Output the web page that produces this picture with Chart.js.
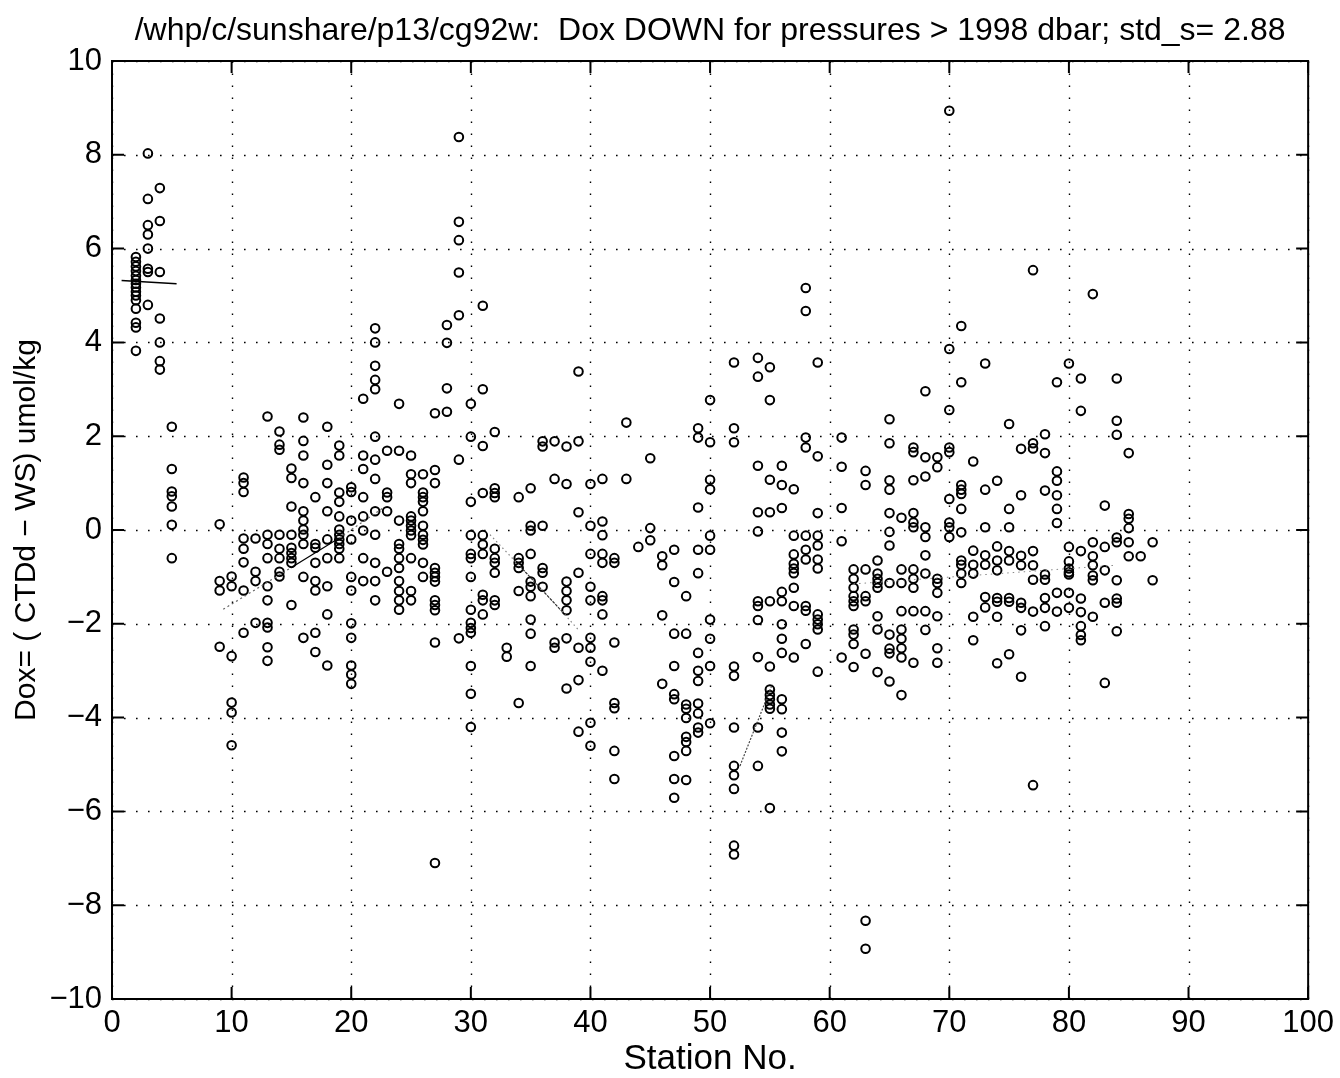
<!DOCTYPE html>
<html><head><meta charset="utf-8">
<script src="https://cdn.jsdelivr.net/npm/chart.js@4.4.1/dist/chart.umd.min.js"></script>
<style>html,body{margin:0;padding:0;background:#fff;} canvas{display:block;}</style>
</head><body>
<canvas id="c" width="1340" height="1078"></canvas>
<script>
const FONT = "'Liberation Sans', Arial, Helvetica, sans-serif";
const titleText = "/whp/c/sunshare/p13/cg92w:  Dox DOWN for pressures > 1998 dbar; std_s= 2.88";
const xTitle = "Station No.";
const yTitle = "Dox= ( CTDd \u2212 WS) umol/kg";
const xTicks = [0, 10, 20, 30, 40, 50, 60, 70, 80, 90, 100];
const yTicks = [-10, -8, -6, -4, -2, 0, 2, 4, 6, 8, 10];

const stations = [2,3,4,5,9,10,11,12,13,14,15,16,17,18,19,20,21,22,23,24,25,26,27,28,29,30,31,32,33,34,35,36,37,38,39,40,41,42,43,44,45,46,47,48,49,50,52,54,55,56,57,58,59,61,62,63,64,65,66,67,68,69,70,71,72,73,74,75,76,77,78,79,80,81,82,83,84,85,86,87];
const doxByStation = [
 [5.82,5.72,5.62,5.52,5.42,5.33,5.25,5.17,5.08,5.0,4.9,4.72,4.42,4.32,3.82],
 [8.03,7.06,6.5,6.3,6.0,5.57,5.5,4.8],
 [7.29,6.59,5.5,4.51,4.0,3.6,3.42],
 [2.2,1.3,0.82,0.72,0.5,0.11,-0.6],
 [0.12,-1.09,-1.29,-2.49],
 [-0.99,-1.2,-2.69,-3.68,-3.89,-4.59],
 [1.12,1.0,0.81,-0.18,-0.4,-0.69,-1.29,-2.19],
 [-0.18,-0.89,-1.09,-1.98],
 [2.42,-0.1,-0.3,-0.6,-1.2,-1.5,-1.98,-2.08,-2.5,-2.79],
 [2.1,1.82,1.71,-0.1,-0.4,-0.6,-0.89,-0.99],
 [1.31,1.11,0.5,-0.1,-0.38,-0.49,-0.6,-0.7,-1.6],
 [2.4,1.9,1.59,1.0,0.4,0.2,0.01,-0.1,-0.3,-1.0,-2.3],
 [0.7,-0.3,-0.38,-0.7,-1.09,-1.29,-2.19,-2.6],
 [2.2,1.39,1.0,0.4,-0.2,-0.6,-1.2,-1.8,-2.89],
 [1.8,1.59,0.8,0.6,0.29,0.01,-0.1,-0.2,-0.3,-0.4,-0.6],
 [0.91,0.81,0.2,-0.2,-1.0,-1.29,-1.99,-2.3,-2.89,-3.08,-3.28],
 [2.8,1.59,1.3,0.7,0.29,-0.01,-0.6,-1.09],
 [4.3,4.0,3.5,3.2,3.0,1.99,1.5,1.09,0.4,-0.1,-0.7,-1.09,-1.5],
 [1.69,0.8,0.7,0.4,-0.89],
 [2.69,1.69,0.2,-0.3,-0.4,-0.6,-0.81,-1.09,-1.3,-1.5,-1.7],
 [1.59,1.19,1.0,0.29,0.2,0.09,-0.01,-0.11,-0.6,-1.3,-1.5],
 [1.19,0.8,0.7,0.6,0.4,0.09,-0.1,-0.21,-0.31,-0.7,-1.0],
 [2.49,1.28,1.0,-0.81,-0.91,-1.0,-1.1,-1.5,-1.6,-1.71,-2.4,-7.1],
 [4.37,3.99,3.02,2.52],
 [8.38,6.57,6.18,5.49,4.58,1.5,-2.31],
 [2.69,1.99,0.6,-0.11,-0.51,-0.6,-1.0,-1.7,-1.98,-2.09,-2.19,-2.9,-3.49,-4.2],
 [4.78,3.0,1.79,0.79,-0.11,-0.31,-0.51,-1.38,-1.5,-1.8],
 [2.09,0.89,0.79,0.7,-0.4,-0.6,-0.7,-0.91,-1.5,-1.6],
 [-2.51,-2.7],
 [0.7,-0.6,-0.7,-0.81,-1.3,-3.69],
 [0.89,0.09,-0.01,-0.51,-1.1,-1.21,-1.41,-1.91,-2.21,-2.9],
 [1.89,1.78,0.09,-0.81,-0.91,-1.21],
 [1.89,1.09,-2.4,-2.51],
 [1.78,0.98,-1.1,-1.3,-1.5,-1.71,-2.31,-3.38],
 [3.38,1.89,0.38,-0.91,-2.51,-3.2,-4.3],
 [0.98,0.09,-0.51,-1.21,-1.5,-2.3,-2.51,-2.81,-4.11,-4.6],
 [1.09,0.18,-0.11,-0.51,-0.7,-1.41,-1.5,-1.8,-3.0],
 [-0.6,-0.7,-2.4,-3.69,-3.8,-4.71,-5.31],
 [2.29,1.09],
 [-0.36],
 [1.53,0.04,-0.22],
 [-0.56,-0.75,-1.82,-3.28],
 [-0.42,-1.11,-2.21,-2.9,-3.5,-3.61,-4.82,-5.31,-5.71],
 [-1.41,-2.21,-3.72,-3.81,-4.01,-4.41,-4.52,-4.71,-5.33],
 [2.17,1.97,0.48,-0.42,-0.92,-2.62,-3.0,-3.22,-3.7,-3.91,-4.21,-4.32],
 [2.77,1.87,1.07,0.87,-0.12,-0.42,-1.91,-2.32,-2.9,-4.12],
 [3.57,2.17,1.87,-2.91,-3.11,-4.21,-5.03,-5.23,-5.52,-6.73,-6.92],
 [3.67,3.27,1.37,0.38,-0.03,-1.52,-1.62,-1.92,-2.71,-4.21,-5.03],
 [3.47,2.77,1.07,0.38,-1.52,-2.91,-3.4,-3.52,-3.61,-3.72,-3.81,-5.93],
 [1.37,0.96,0.47,-1.32,-1.52,-2.01,-2.32,-2.62,-3.61,-3.82,-4.32,-4.72],
 [0.87,-0.12,-0.52,-0.72,-0.82,-0.92,-1.23,-1.62,-2.72],
 [5.16,4.67,1.97,1.76,-0.12,-0.42,-0.63,-1.62,-1.72,-2.43],
 [3.57,1.57,0.36,-0.12,-0.33,-0.63,-0.82,-1.8,-1.91,-2.01,-2.12,-3.02],
 [1.97,1.35,0.47,-0.24,-2.72],
 [-0.84,-1.04,-1.23,-1.41,-1.52,-1.62,-2.12,-2.23,-2.43,-2.92],
 [1.26,0.96,-0.84,-1.41,-1.52,-2.64,-8.33,-8.93],
 [-0.65,-0.93,-1.04,-1.13,-1.23,-1.84,-2.12,-3.03],
 [2.36,1.85,1.06,0.86,0.36,-0.04,-0.33,-1.13,-2.23,-2.53,-2.63,-3.23],
 [0.26,-0.84,-1.13,-1.73,-2.12,-2.32,-2.52,-2.72,-3.52],
 [1.76,1.66,1.06,0.36,0.16,0.06,-0.84,-1.04,-1.23,-1.73,-2.83],
 [2.96,1.55,1.14,0.06,-0.15,-0.54,-0.93,-1.73,-2.13],
 [1.55,1.34,-1.04,-1.13,-1.34,-1.84,-2.52,-2.83],
 [8.94,3.86,2.56,1.76,1.66,0.66,0.16,0.06,-0.15],
 [4.35,3.15,0.96,0.86,0.77,0.45,-0.05,-0.65,-0.74,-0.93,-1.13],
 [1.46,-0.44,-0.74,-0.93,-1.85,-2.35],
 [3.55,0.86,0.06,-0.54,-0.74,-1.43,-1.65],
 [1.05,-0.35,-0.65,-0.86,-1.45,-1.53,-1.85,-2.84],
 [2.26,0.45,0.06,-0.45,-0.65,-1.45,-1.53,-2.65],
 [1.73,0.74,-0.55,-0.75,-1.55,-1.66,-2.14,-3.13],
 [5.54,1.85,1.74,-0.45,-0.75,-1.06,-1.74,-5.44],
 [2.04,1.64,0.84,-0.95,-1.06,-1.45,-1.66,-2.05],
 [3.15,1.25,1.05,0.74,0.45,0.15,-1.34,-1.74],
 [3.55,-0.36,-0.67,-0.82,-0.9,-0.95,-1.34,-1.66],
 [3.23,2.54,-0.45,-1.46,-1.75,-2.05,-2.24,-2.35],
 [5.03,-0.26,-0.56,-0.75,-0.97,-1.07,-1.85],
 [0.52,-0.36,-0.86,-1.55,-3.26],
 [3.23,2.33,2.03,-0.16,-0.26,-1.07,-1.46,-1.55,-2.16],
 [1.64,0.34,0.24,0.04,-0.26,-0.56],
 [-0.56],
 [-0.26,-1.07]
];

// fitted trend lines per station group
const fit1Stations = [0.8, 5.4];           const fit1Dox = [5.32, 5.25];
const fit2Stations = [9.3, 15, 19, 22.6];  const fit2Dox = [-1.69, -0.8, -0.17, 0.46];
const fit3Stations = [31.6, 34.1, 37.6, 39.1]; const fit3Dox = [-0.1, -0.77, -1.73, -2.16];
const fit4Stations = [52.5, 55.2];         const fit4Dox = [-5.03, -3.29];
const fit5Stations = [62, 84];             const fit5Dox = [-1.15, -0.75];

const pts = (xs, ys) => xs.map((x, i) => ({x, y: ys[i]}));
const scatterData = stations.flatMap((s, i) => doxByStation[i].map(v => ({x: s, y: v})));

const lineDs = (xs, ys, extra) => Object.assign({
  type: 'line', data: pts(xs, ys), showLine: true, pointRadius: 0,
  borderColor: '#555', borderWidth: 1.2, borderDash: [2, 3], fill: false, order: 1
}, extra || {});

const gridFrame = {
  id: 'gridFrame',
  beforeDatasetsDraw(chart) {
    const {ctx, chartArea: a, scales: {x, y}} = chart;
    ctx.save();
    ctx.strokeStyle = '#000';
    ctx.lineWidth = 1.4;
    ctx.setLineDash([1.6, 10.4]);
    xTicks.forEach(v => {
      const px = Math.round(x.getPixelForValue(v)) + 0.5;
      ctx.beginPath(); ctx.moveTo(px, a.bottom); ctx.lineTo(px, a.top); ctx.stroke();
    });
    yTicks.forEach(v => {
      const py = Math.round(y.getPixelForValue(v)) + 0.5;
      ctx.beginPath(); ctx.moveTo(a.left, py); ctx.lineTo(a.right, py); ctx.stroke();
    });
    ctx.restore();
  },
  afterDatasetsDraw(chart) {
    const {ctx, chartArea: a, scales: {x, y}} = chart;
    ctx.save();
    ctx.setLineDash([]);
    ctx.strokeStyle = '#000';
    ctx.lineWidth = 2;
    ctx.strokeRect(a.left, a.top, a.right - a.left, a.bottom - a.top);
    const L = 12;
    xTicks.forEach(v => {
      const px = x.getPixelForValue(v);
      ctx.beginPath();
      ctx.moveTo(px, a.bottom); ctx.lineTo(px, a.bottom - L);
      ctx.moveTo(px, a.top); ctx.lineTo(px, a.top + L);
      ctx.stroke();
    });
    yTicks.forEach(v => {
      const py = y.getPixelForValue(v);
      ctx.beginPath();
      ctx.moveTo(a.left, py); ctx.lineTo(a.left + L, py);
      ctx.moveTo(a.right, py); ctx.lineTo(a.right - L, py);
      ctx.stroke();
    });
    ctx.restore();
  },
  afterDraw(chart) {
    const {ctx, chartArea: a} = chart;
    ctx.save();
    ctx.fillStyle = '#000';
    ctx.font = "32px " + FONT;
    ctx.textAlign = 'center';
    ctx.textBaseline = 'middle';
    ctx.fillText(titleText, (a.left + a.right) / 2, 31);
    ctx.restore();
  }
};

const minusFmt = v => (v < 0 ? '\u2212' + Math.abs(v) : String(v));

new Chart(document.getElementById('c'), {
  type: 'scatter',
  data: {
    datasets: [
      {
        label: 'Dox', data: scatterData, pointStyle: 'circle', pointRadius: 4.3,
        pointBorderWidth: 2, borderColor: '#000', backgroundColor: 'rgba(0,0,0,0)', order: 2
      },
      lineDs(fit1Stations, fit1Dox, {borderColor: '#000', borderWidth: 1.5, borderDash: []}),
      lineDs(fit2Stations, fit2Dox, {segment: {
        borderDash: c => c.p0DataIndex === 1 ? [] : [2, 3],
        borderColor: c => c.p0DataIndex === 1 ? '#000' : '#666'
      }}),
      lineDs(fit3Stations, fit3Dox, {segment: {
        borderDash: c => c.p0DataIndex === 1 ? [3, 1] : [1.5, 3],
        borderColor: c => c.p0DataIndex === 1 ? '#333' : '#888'
      }}),
      lineDs(fit4Stations, fit4Dox, {borderDash: [2, 1.5], borderColor: '#444'}),
      lineDs(fit5Stations, fit5Dox, {borderDash: [1.5, 4], borderColor: '#888', borderWidth: 1})
    ]
  },
  options: {
    responsive: false,
    animation: false,
    events: [],
    layout: {padding: {top: 61, right: 31, left: 0, bottom: 0}},
    plugins: {legend: {display: false}, tooltip: {enabled: false}, title: {display: false}},
    scales: {
      x: {
        type: 'linear', min: 0, max: 100,
        afterBuildTicks: s => { s.ticks = xTicks.map(v => ({value: v})); },
        afterFit: s => { s.height = 79; },
        grid: {display: false, drawTicks: false},
        border: {display: false},
        ticks: {color: '#000', font: {family: FONT, size: 31}, padding: 6, maxRotation: 0, autoSkip: false},
        title: {display: true, text: xTitle, color: '#000', font: {family: FONT, size: 35}, padding: {top: 0, bottom: -2}}
      },
      y: {
        type: 'linear', min: -10, max: 10,
        afterBuildTicks: s => { s.ticks = yTicks.map(v => ({value: v})); },
        afterFit: s => { s.width = 112; },
        grid: {display: false, drawTicks: false},
        border: {display: false},
        ticks: {color: '#000', font: {family: FONT, size: 31}, padding: 10, autoSkip: false, callback: v => minusFmt(v)},
        title: {display: true, text: yTitle, color: '#000', font: {family: FONT, size: 30}, padding: {top: 9, bottom: 0}}
      }
    }
  },
  plugins: [gridFrame]
});
</script>
</body></html>
